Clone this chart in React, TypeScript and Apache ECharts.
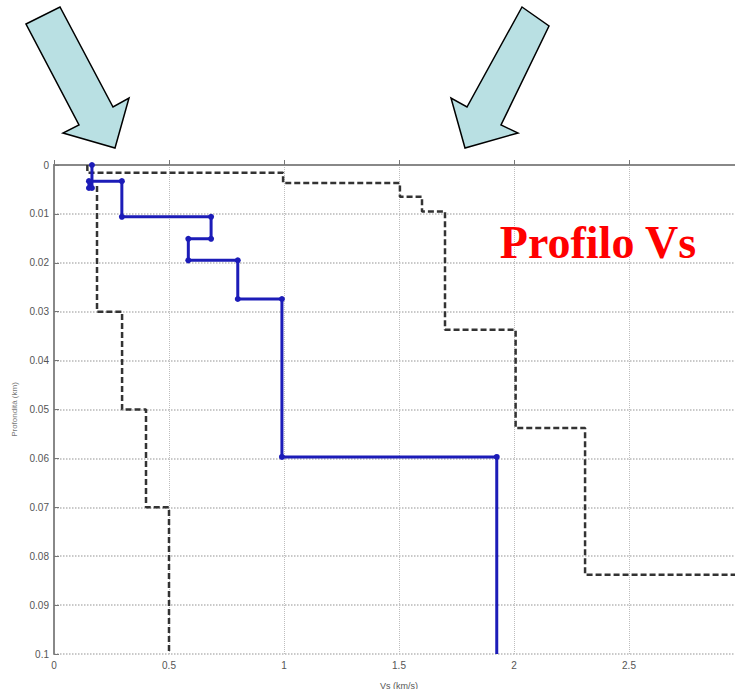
import React, { useEffect, useRef } from "react";
import * as echarts from "echarts";

// Profile data: [Vs (km/s), depth (km)]
const vsProfile: [number, number][] = [
  [0.165, 0], [0.165, 0.0047], [0.152, 0.0047], [0.152, 0.0033],
  [0.295, 0.0033], [0.295, 0.0106], [0.683, 0.0106], [0.683, 0.0151],
  [0.584, 0.0151], [0.584, 0.0195], [0.799, 0.0195], [0.799, 0.0274],
  [0.991, 0.0274], [0.991, 0.0597], [1.925, 0.0597], [1.925, 0.1],
];
const maxBound: [number, number][] = [
  [0.145, 0], [0.145, 0.0016], [0.996, 0.0016], [0.996, 0.0037],
  [1.504, 0.0037], [1.504, 0.0065], [1.6, 0.0065], [1.6, 0.0095],
  [1.7, 0.0095], [1.7, 0.0337], [2.007, 0.0337], [2.007, 0.0538],
  [2.309, 0.0538], [2.309, 0.0838], [3, 0.0838],
];
const minBound: [number, number][] = [
  [0.187, 0.0043], [0.187, 0.03], [0.296, 0.03], [0.296, 0.05],
  [0.4, 0.05], [0.4, 0.07], [0.5, 0.07], [0.5, 0.1],
];
const xTicks = [0, 0.5, 1, 1.5, 2, 2.5, 3];
const yTicks = [0, 0.01, 0.02, 0.03, 0.04, 0.05, 0.06, 0.07, 0.08, 0.09, 0.1];
const titleText = "Profilo Vs";
const xName = "Vs (km/s)";
const yName = "Profondità (km)";

const arrowLeft = [[26, 24], [60, 7], [113, 107], [129, 98], [115, 148], [63, 133], [79, 125]];
const arrowRight = [[522, 7], [549, 26], [501, 125], [518, 133], [465, 148], [451, 98], [467, 107]];

export default function App() {
  const ref = useRef<HTMLDivElement>(null);
  useEffect(() => {
    if (!ref.current) return;
    const chart = echarts.init(ref.current, null, { renderer: "svg" });
    const fmt = (v: number) => (v === 0 ? "0" : String(+v.toFixed(2)));
    const labelStyle = { color: "#555", fontSize: 10, fontFamily: "Liberation Sans, Arial, sans-serif" };
    chart.setOption({
      animation: false,
      backgroundColor: "#fff",
      grid: { left: 54, right: 16, top: 165, bottom: 35, containLabel: false, outerBoundsMode: "none" },
      xAxis: {
        type: "value",
        min: xTicks[0],
        max: xTicks[xTicks.length - 1],
        interval: 0.5,
        name: xName,
        nameLocation: "middle",
        nameGap: 27,
        nameTextStyle: { color: "#555", fontSize: 9, fontFamily: "Liberation Sans, Arial, sans-serif" },
        axisLine: { show: true, lineStyle: { color: "#888", width: 2 } },
        axisTick: { show: true, inside: true, length: 5, lineStyle: { color: "#777" } },
        axisLabel: { ...labelStyle, formatter: fmt, margin: 6, showMaxLabel: false },
        splitLine: { show: true, lineStyle: { color: "#bdbdbd", type: "dotted", width: 1 } },
      },
      yAxis: {
        type: "value",
        inverse: true,
        min: yTicks[0],
        max: yTicks[yTicks.length - 1],
        interval: 0.01,
        name: yName,
        nameLocation: "middle",
        nameGap: 34,
        nameRotate: 90,
        nameTextStyle: { color: "#777", fontSize: 8, fontFamily: "Liberation Sans, Arial, sans-serif" },
        axisLine: { show: true, lineStyle: { color: "#888", width: 2 } },
        axisTick: { show: true, inside: true, length: 5, lineStyle: { color: "#777" } },
        axisLabel: { ...labelStyle, formatter: fmt, margin: 5 },
        splitLine: { show: true, lineStyle: { color: "#b8b8b8", type: "dotted", width: 1.5 } },
      },
      series: [
        {
          type: "line",
          data: maxBound,
          symbol: "none",
          lineStyle: { color: "#333", width: 2.5, type: [6, 3] },
          z: 2,
        },
        {
          type: "line",
          data: minBound,
          symbol: "none",
          lineStyle: { color: "#333", width: 2.5, type: [6, 3] },
          z: 2,
        },
        {
          type: "line",
          data: vsProfile.map((p, i) =>
            i === vsProfile.length - 1 ? { value: p, symbol: "none" } : { value: p }
          ),
          symbol: "circle",
          symbolSize: 6,
          itemStyle: { color: "#1c1cb8" },
          lineStyle: { color: "#1c1cb8", width: 3 },
          z: 3,
        },
      ],
      graphic: [
        {
          type: "polygon",
          shape: { points: arrowLeft },
          style: { fill: "#b9e0e3", stroke: "#000", lineWidth: 1.5 },
          z: 10,
        },
        {
          type: "polygon",
          shape: { points: arrowRight },
          style: { fill: "#b9e0e3", stroke: "#000", lineWidth: 1.5 },
          z: 10,
        },
        {
          type: "text",
          x: 598,
          y: 242,
          style: {
            text: titleText,
            fill: "#ff0000",
            font: "bold 46px 'Liberation Serif', 'Times New Roman', serif",
            textAlign: "center",
            textVerticalAlign: "middle",
            shadowColor: "rgba(0,0,0,0.35)",
            shadowOffsetX: 2,
            shadowOffsetY: 2,
            shadowBlur: 1,
          },
          z: 10,
        },
      ],
    });
    return () => chart.dispose();
  }, []);
  return (
    <div
      ref={ref}
      style={{ position: "fixed", left: 0, top: 0, width: 760, height: 689 }}
    />
  );
}
